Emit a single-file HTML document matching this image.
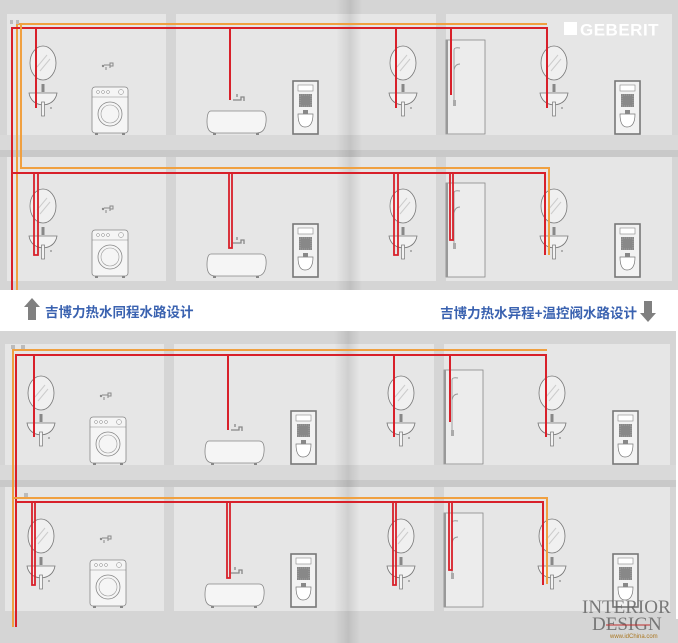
<!DOCTYPE html>
<html><head><meta charset="utf-8"><style>
html,body{margin:0;padding:0;background:#fff;}
svg{display:block;}
text{font-family:"Liberation Sans","Noto Sans CJK SC",sans-serif;}
text.serif{font-family:"Liberation Serif",serif;}
</style></head><body>
<svg width="678" height="643" viewBox="0 0 678 643" xmlns="http://www.w3.org/2000/svg">
<defs>
<linearGradient id="fold" x1="0" x2="1" y1="0" y2="0">
<stop offset="0" stop-color="#000" stop-opacity="0"/>
<stop offset="0.45" stop-color="#000" stop-opacity="0.08"/>
<stop offset="0.55" stop-color="#000" stop-opacity="0.10"/>
<stop offset="1" stop-color="#000" stop-opacity="0"/>
</linearGradient>
<g id="mirror"><ellipse cx="0" cy="0" rx="13" ry="17" fill="#f0f0f0" stroke="#777" stroke-width="0.8"/><line x1="-6" y1="4" x2="4" y2="-8" stroke="#ccc" stroke-width="1"/><line x1="-3" y1="8" x2="7" y2="-4" stroke="#ccc" stroke-width="1"/></g>
<g id="sink"><rect x="-1.5" y="-12" width="3" height="8" fill="#888"/><path d="M-14,-3 H14 Q12,8 0,9 Q-12,8 -14,-3Z" fill="#f2f2f2" stroke="#777" stroke-width="0.8"/><rect x="-1.5" y="6" width="3" height="14" fill="#f2f2f2" stroke="#777" stroke-width="0.7"/><circle cx="8" cy="12" r="0.9" fill="#888"/></g>
<g id="washer"><rect x="0" y="0" width="36" height="46" rx="3" fill="#f5f5f5" stroke="#888" stroke-width="0.8"/><line x1="0" y1="10" x2="36" y2="10" stroke="#888" stroke-width="0.6"/><circle cx="6" cy="5" r="1.5" fill="none" stroke="#888" stroke-width="0.5"/><circle cx="11" cy="5" r="1.5" fill="none" stroke="#888" stroke-width="0.5"/><circle cx="16" cy="5" r="1.5" fill="none" stroke="#888" stroke-width="0.5"/><circle cx="29" cy="5" r="2.5" fill="none" stroke="#888" stroke-width="0.5"/><circle cx="18" cy="27" r="12" fill="none" stroke="#888" stroke-width="0.8"/><circle cx="18" cy="27" r="9" fill="none" stroke="#999" stroke-width="0.6"/><rect x="3" y="46" width="3" height="2" fill="#888"/><rect x="30" y="46" width="3" height="2" fill="#888"/><path d="M12,-22 h6 v-2 h3 v3 h-3 v2 M14,-20 v3" stroke="#888" stroke-width="1" fill="none"/><circle cx="11" cy="-21" r="1.2" fill="#888"/></g>
<g id="bath"><path d="M4,0 H54 Q60,0 59,11 Q58,22 50,22 H8 Q0,22 0,11 Q0,0 4,0Z" fill="#f5f5f5" stroke="#888" stroke-width="0.8"/><rect x="6" y="22" width="3" height="2" fill="#888"/><rect x="49" y="22" width="3" height="2" fill="#888"/><path d="M26,-11 h8 v-3 h3 v4 M30,-14 v-3" stroke="#888" stroke-width="1.3" fill="none"/></g>
<g id="wc"><rect x="0" y="0" width="25" height="53" fill="#f2f2f2" stroke="#777" stroke-width="1.6"/><rect x="5" y="4" width="15" height="6" fill="#fff" stroke="#888" stroke-width="0.6"/><rect x="6" y="13" width="13" height="13" fill="#888"/><rect x="7" y="14" width="11" height="11" fill="none" stroke="#bbb" stroke-width="0.5" stroke-dasharray="1 1"/><path d="M5,33 H20 Q20,46 12,46 Q5,46 5,33Z" fill="#fff" stroke="#777" stroke-width="0.7"/><rect x="10" y="29" width="5" height="4" fill="#888"/></g>
<g id="shower"><rect x="0" y="0" width="39" height="94" fill="#ececec" stroke="#888" stroke-width="0.8"/><rect x="0" y="0" width="2" height="94" fill="#999"/><path d="M8,60 V10 Q8,7 14,8 M8,30 Q9,24 14,24" stroke="#999" stroke-width="0.9" fill="none"/><rect x="7" y="60" width="3" height="6" fill="#aaa"/></g>
<g id="floor">
<use href="#mirror" x="43" y="49"/><use href="#sink" x="43" y="82"/>
<use href="#washer" x="92" y="73"/>
<use href="#bath" x="207" y="97"/>
<use href="#wc" x="293" y="67"/>
<use href="#mirror" x="403" y="49"/><use href="#sink" x="403" y="82"/>
<use href="#shower" x="446" y="26"/>
<use href="#mirror" x="554" y="49"/><use href="#sink" x="554" y="82"/>
<use href="#wc" x="615" y="67"/>
</g>
<g id="building">
<rect x="0" y="0" width="678" height="290" fill="#d5d5d5"/>
<rect x="7" y="14" width="159" height="121" fill="#e6e6e6"/>
<rect x="176" y="14" width="260" height="121" fill="#e6e6e6"/>
<rect x="446" y="14" width="226" height="121" fill="#e6e6e6"/>
<rect x="0" y="135" width="678" height="15" fill="#d9d9d9"/>
<rect x="0" y="150" width="678" height="7" fill="#c9c9c9"/>
<rect x="7" y="157" width="159" height="124" fill="#e6e6e6"/>
<rect x="176" y="157" width="260" height="124" fill="#e6e6e6"/>
<rect x="446" y="157" width="226" height="124" fill="#e6e6e6"/>
<use href="#floor" x="0" y="14"/>
<use href="#floor" x="0" y="157"/>
</g>
</defs>
<rect width="678" height="643" fill="#fff"/>
<use href="#building" x="0" y="0"/>
<g transform="translate(-2,330)"><use href="#building"/></g>
<rect x="0" y="619" width="678" height="24" fill="#d5d5d5"/>
<rect x="0" y="290" width="678" height="41" fill="#fff"/>
<rect x="336" y="0" width="26" height="290" fill="url(#fold)"/>
<rect x="334" y="331" width="26" height="312" fill="url(#fold)"/>

<g fill="none" stroke-width="2" stroke-linejoin="miter">
<path d="M17,290 V24 H547" stroke="#f0a040"/>
<path d="M12,290 V28 H547 V108" stroke="#d8202a"/>
<path d="M36,28 V108 M230,28 V100 M396,28 V108 M451,28 V95" stroke="#d8202a"/>
<path d="M21,24 V168 H549 V255" stroke="#f0a040"/>
<path d="M12,173 H545 V255" stroke="#d8202a"/>
<path d="M34,173 V255 H38 V173 M229,173 V248 H232 V173 M394,173 V255 H398 V173 M450,173 V240 H453 V173" stroke="#d8202a" stroke-width="1.8"/>
<path d="M13,627 V350 H547" stroke="#f0a040"/>
<path d="M16,627 V355 H546 V437" stroke="#d8202a"/>
<path d="M34,355 V437 M228,355 V430 M394,355 V437 M450,355 V422" stroke="#d8202a"/>
<path d="M13,498 H547 V584" stroke="#f0a040"/>
<path d="M16,502 H543 V585" stroke="#d8202a"/>
<path d="M32,502 V585 H35 V502 M227,502 V578 H230 V502 M393,502 V585 H396 V502 M449,502 V570 H452 V502" stroke="#d8202a" stroke-width="1.8"/>
</g>
<g fill="#bbb"><rect x="10" y="20" width="3" height="4"/><rect x="16" y="20" width="3" height="4"/><rect x="11" y="345" width="4" height="4"/><rect x="21" y="345" width="4" height="4"/><rect x="24" y="493" width="4" height="4"/></g>

<rect x="564" y="22" width="13" height="13" fill="#fff"/>
<text x="580" y="35.5" font-size="17" font-weight="bold" fill="#fff" letter-spacing="0.5">GEBERIT</text>

<path d="M28,320 V307 H24 L32,298 L40,307 H36 V320Z" fill="#808080"/>
<text x="45" y="317" font-size="13.5" font-weight="bold" fill="#3a62b0">吉博力热水同程水路设计</text>
<text x="637" y="318" font-size="13.5" font-weight="bold" fill="#3a62b0" text-anchor="end">吉博力热水异程+温控阀水路设计</text>
<path d="M644,301 V313 H640 L648,322 L656,313 H652 V301Z" fill="#808080"/>

<text class="serif" x="582" y="613" font-size="19" fill="#666" opacity="0.85">INTERIOR</text>
<text class="serif" x="592" y="630" font-size="19" fill="#666" opacity="0.85">DESIGN</text>
<line x1="606" y1="625" x2="650" y2="625" stroke="#c03030" stroke-width="1"/>
<text x="610" y="638" font-size="6" fill="#aa7722">www.idChina.com</text>
</svg>
</body></html>
